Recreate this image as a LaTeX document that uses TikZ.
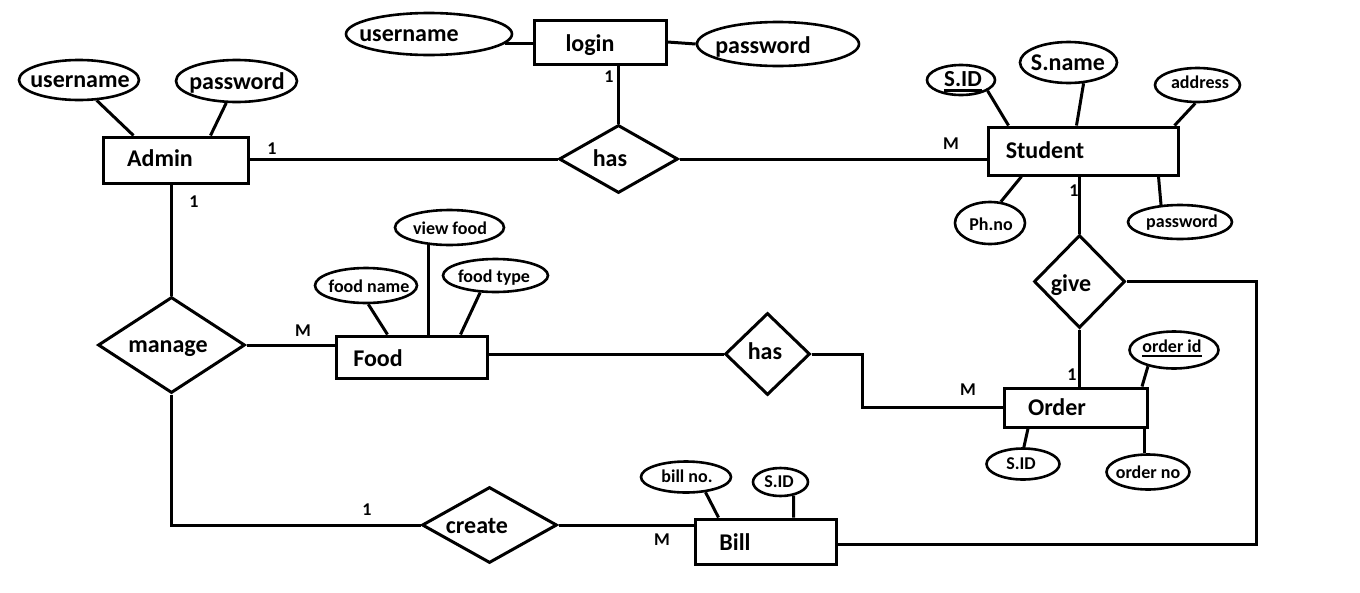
\documentclass[tikz,border=0pt]{standalone}
\usepackage{fontspec}
\setmainfont{Carlito}
\usetikzlibrary{shapes.geometric}
\begin{document}
\begin{tikzpicture}[x=1pt,y=-1pt,
  ent/.style={draw,rectangle,line width=3pt,inner sep=0pt},
  rel/.style={draw,diamond,line width=3pt,inner sep=0pt},
  att/.style={draw,ellipse,line width=2.6pt,inner sep=0pt},
  big/.style={inner sep=0pt,yshift=-2pt,text height=13pt,text depth=0pt,font=\fontsize{24}{28}\selectfont\bfseries},
  sml/.style={inner sep=0pt,yshift=-1pt,text height=10pt,text depth=0pt,font=\fontsize{18}{21}\selectfont\bfseries},
  card/.style={inner sep=0pt,yshift=-1pt,text height=11.5pt,text depth=0pt,font=\fontsize{18}{21}\selectfont\bfseries},
  conn/.style={line width=3pt},
  ul/.style={line width=2.6pt}]
\useasboundingbox (0,0) rectangle (1360,592);
\fill[white] (0,0) rectangle (1360,592);

% ---------- entities ----------
\node[ent,minimum width=132,minimum height=44] (login) at (600,42) {};
\node[big] (login-t) at (590,43) {login};
\node[ent,minimum width=145,minimum height=46] (admin) at (175.5,160) {};
\node[big] (admin-t) at (160,158) {Admin};
\node[ent,minimum width=190,minimum height=48] (student) at (1083,151) {};
\node[big] (student-t) at (1045,150) {Student};
\node[ent,minimum width=151,minimum height=42] (food) at (411.5,357) {};
\node[big] (food-t) at (378,358) {Food};
\node[ent,minimum width=143,minimum height=39] (order) at (1076,407.5) {};
\node[big] (order-t) at (1057,407) {Order};
\node[ent,minimum width=141,minimum height=45] (bill) at (765.5,541.5) {};
\node[big] (bill-t) at (735,542) {Bill};

% ---------- relationships ----------
\node[rel,minimum width=119,minimum height=68] (has1) at (618.5,159) {};
\node[big] (has1-t) at (610,158) {has};
\node[rel,minimum width=147,minimum height=96] (manage) at (171.5,345) {};
\node[big] (manage-t) at (168,344) {manage};
\node[rel,minimum width=85,minimum height=82] (has2) at (767.5,354) {};
\node[big] (has2-t) at (765,351) {has};
\node[rel,minimum width=91,minimum height=93] (give) at (1079.5,281.5) {};
\node[big] (give-t) at (1071,283) {give};
\node[rel,minimum width=135,minimum height=76] (create) at (489.5,525) {};
\node[big] (create-t) at (477,525) {create};

% ---------- attributes ----------
\node[att,minimum width=166,minimum height=42] (lu) at (429,34) {};
\node[big] (lu-t) at (409,33) {username};
\node[att,minimum width=162,minimum height=44] (lp) at (778,44) {};
\node[big] (lp-t) at (763,45) {password};
\node[att,minimum width=120,minimum height=40] (au) at (79,80) {};
\node[big] (au-t) at (80,79) {username};
\node[att,minimum width=121,minimum height=42] (ap) at (236.5,81) {};
\node[big] (ap-t) at (237,81) {password};

\node[att,minimum width=68,minimum height=30] (sid) at (961,80) {};
\node[big,font=\fontsize{23}{27}\selectfont\bfseries] (sid-t) at (963,78) {S.ID};
\node[att,minimum width=97,minimum height=41] (sname) at (1068.5,62.5) {};
\node[big] (sname-t) at (1068,62) {S.name};
\node[att,minimum width=85,minimum height=34] (addr) at (1197.5,85) {};
\node[sml] (addr-t) at (1200,82) {address};
\node[att,minimum width=70,minimum height=42] (phno) at (990,223) {};
\node[sml] (phno-t) at (991,224) {Ph.no};
\node[att,minimum width=104,minimum height=34] (spw) at (1180,222) {};
\node[sml] (spw-t) at (1182,221) {password};

\node[att,minimum width=109,minimum height=35] (vf) at (449.5,227.5) {};
\node[sml] (vf-t) at (450,228) {view food};
\node[att,minimum width=102,minimum height=35] (fn) at (366,285.5) {};
\node[sml] (fn-t) at (369,286) {food name};
\node[att,minimum width=105,minimum height=33] (ft) at (495.5,275.5) {};
\node[sml] (ft-t) at (494,276) {food type};

\node[att,minimum width=89,minimum height=37] (oid) at (1174,350) {};
\node[sml] (oid-t) at (1172,346) {order id};
\node[att,minimum width=73,minimum height=31] (osid) at (1023,464) {};
\node[sml] (osid-t) at (1021,463) {S.ID};
\node[att,minimum width=83,minimum height=35] (ono) at (1148,472) {};
\node[sml] (ono-t) at (1148,472) {order no};

\node[att,minimum width=90,minimum height=31] (bno) at (686,477) {};
\node[sml] (bno-t) at (687,476) {bill no.};
\node[att,minimum width=55,minimum height=28] (bsid) at (780.5,482) {};
\node[sml] (bsid-t) at (779,481) {S.ID};

% underlines of key attributes
\draw[ul] ([yshift=-4pt]sid-t.base west) -- ([yshift=-4pt]sid-t.base east);
\draw[ul] ([yshift=-4pt]oid-t.base west) -- ([yshift=-4pt]oid-t.base east);

% ---------- cardinality labels ----------
\node[card] (c1) at (609,76) {1};
\node[card] (c2) at (272,148) {1};
\node[card] (c3) at (951,143) {M};
\node[card] (c4) at (1074,190) {1};
\node[card] (c5) at (194,201) {1};
\node[card] (c6) at (303,330) {M};
\node[card] (c7) at (1072,374) {1};
\node[card] (c8) at (968,389) {M};
\node[card] (c9) at (367,509) {1};
\node[card] (c10) at (662,539) {M};

% ---------- relationship connectors ----------
\coordinate (bendR) at (1256,0);
\coordinate (bendM) at (862,0);
\draw[conn] (has1.north) -- (has1.north |- login.south);
\draw[conn] (has1.west) -- (has1.west -| admin.east);
\draw[conn] (has1.east) -- (has1.east -| student.west);
\draw[conn] (manage.north) -- (manage.north |- admin.south);
\draw[conn] (manage.east) -- (manage.east -| food.west);
\draw[conn] (manage.south) |- (create.west);
\draw[conn] (create.east) -- (create.east -| bill.west);
\draw[conn] ([yshift=-2.5pt]bill.east) -| (bendR |- give.east) -- (give.east);
\draw[conn] (has2.west) -- (has2.west -| food.east);
\draw[conn] (has2.east) -- (has2.east -| bendM) -- (bendM |- order.west) -- (order.west);
\draw[conn] (give.north) -- (give.north |- student.south);
\draw[conn] (give.south) -- (give.south |- order.north);

% ---------- attribute connectors ----------
\draw[conn] (lu.-7) -- (lu.-7 -| login.west);
\draw[conn] (login.east) -- (lp.west);
\draw[conn] (au.-49) -- ([xshift=32pt]admin.north west);
\draw[conn] (ap.-115) -- ([xshift=109pt]admin.north west);
\draw[conn] (sid.-22) -- ([xshift=22pt]student.north west);
\draw[conn] (sname.-54) -- ([xshift=90pt]student.north west);
\draw[conn] (addr.-97) -- ([xshift=-5pt]student.north east);
\draw[conn] (phno.63) -- ([xshift=35pt]student.south west);
\draw[conn] (spw.138) -- ([xshift=-21pt]student.south east);
\draw[conn] (vf.-140) -- (vf.-140 |- food.north);
\draw[conn] (fn.-83) -- ([xshift=53pt]food.north west);
\draw[conn] (ft.-132) -- ([xshift=126pt]food.north west);
\draw[conn] (oid.-148) -- ([xshift=-7pt]order.north east);
\draw[conn] (osid.87) -- ([xshift=25pt]order.south west);
\draw[conn] (ono.100) -- (ono.100 |- order.south);
\draw[conn] (bno.-38) -- ([xshift=25pt]bill.north west);
\draw[conn] (bsid.-46) -- ([xshift=100pt]bill.north west);
\end{tikzpicture}
\end{document}
